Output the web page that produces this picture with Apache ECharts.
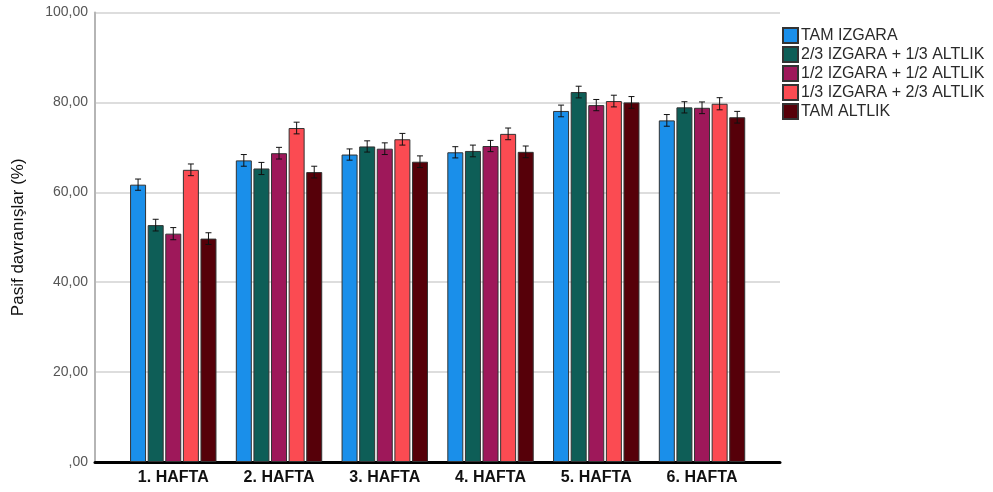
<!DOCTYPE html>
<html>
<head>
<meta charset="utf-8">
<script src="https://cdn.jsdelivr.net/npm/echarts@6/dist/echarts.min.js"></script>
<style>
  html, body { margin: 0; padding: 0; background: #fff; }
  #chart { width: 993px; height: 492px; }
</style>
</head>
<body>
<div id="chart"></div>
<script>
// Weekly passive behaviour (%) by floor type, mean ± error
const weeks = ['1. HAFTA', '2. HAFTA', '3. HAFTA', '4. HAFTA', '5. HAFTA', '6. HAFTA'];
const groupNames = [
  'TAM IZGARA',
  '2/3 IZGARA + 1/3 ALTLIK',
  '1/2 IZGARA + 1/2 ALTLIK',
  '1/3 IZGARA + 2/3 ALTLIK',
  'TAM ALTLIK'
];
const tamIzgara   = [61.7, 67.1, 68.4, 68.9, 78.1, 76.0];
const izgara23    = [52.7, 65.3, 70.2, 69.2, 82.3, 78.9];
const izgara12    = [50.8, 68.7, 69.7, 70.3, 79.4, 78.8];
const izgara13    = [65.0, 74.3, 71.8, 73.0, 80.3, 79.7];
const tamAltlik   = [49.7, 64.5, 66.8, 69.0, 80.0, 76.7];

const errTamIzgara = [1.25, 1.3, 1.25, 1.25, 1.3, 1.3];
const errIzgara23  = [1.3, 1.35, 1.25, 1.3, 1.3, 1.25];
const errIzgara12  = [1.35, 1.3, 1.3, 1.25, 1.25, 1.3];
const errIzgara13  = [1.3, 1.3, 1.3, 1.3, 1.3, 1.35];
const errTamAltlik = [1.3, 1.3, 1.3, 1.3, 1.3, 1.3];

const yTicks = [0, 20, 40, 60, 80, 100];

const colors = ['#1a8fea', '#0e5e57', '#9e185a', '#fb4b52', '#560009'];
const means = [tamIzgara, izgara23, izgara12, izgara13, tamAltlik];
const errs = [errTamIzgara, errIzgara23, errIzgara12, errIzgara13, errTamAltlik];

const BAR_W = 16;
const BAR_GAP = 0.1;
const PITCH = BAR_W * (1 + BAR_GAP);

const fmt = v => {
  const s = v.toFixed(2).replace('.', ',');
  return s.startsWith('0,') ? s.slice(1) : s;
};

const barSeries = groupNames.map((name, i) => ({
  name,
  type: 'bar',
  xAxisIndex: 1,
  yAxisIndex: 1,
  barWidth: BAR_W,
  barGap: (BAR_GAP * 100) + '%',
  itemStyle: { color: colors[i], borderColor: '#333', borderWidth: 1 },
  emphasis: { disabled: true },
  data: means[i]
}));

const errSeries = groupNames.map((name, i) => ({
  name: name + ' hata',
  type: 'custom',
  xAxisIndex: 1,
  yAxisIndex: 1,
  z: 5,
  silent: true,
  data: means[i].map((m, k) => [k, m - errs[i][k], m + errs[i][k]]),
  renderItem: (params, api) => {
    const lo = api.coord([api.value(0), api.value(1)]);
    const hi = api.coord([api.value(0), api.value(2)]);
    const x = lo[0] + (i - 2) * PITCH;
    const cap = 3;
    const st = { stroke: '#111', lineWidth: 1 };
    return {
      type: 'group',
      children: [
        { type: 'line', shape: { x1: x, y1: lo[1], x2: x, y2: hi[1] }, style: st },
        { type: 'line', shape: { x1: x - cap, y1: lo[1], x2: x + cap, y2: lo[1] }, style: st },
        { type: 'line', shape: { x1: x - cap, y1: hi[1], x2: x + cap, y2: hi[1] }, style: st }
      ]
    };
  }
}));

const chart = echarts.init(document.getElementById('chart'), null, { renderer: 'canvas' });
chart.setOption({
  animation: false,
  backgroundColor: '#fff',
  textStyle: { fontFamily: 'Liberation Sans, Arial, sans-serif' },
  legend: {
    data: groupNames,
    orient: 'vertical',
    left: 782,
    top: 27,
    padding: 0,
    itemWidth: 15,
    itemHeight: 15,
    itemGap: 2,
    icon: 'rect',
    selectedMode: false,
    textStyle: { fontSize: 16, lineHeight: 15, color: '#2a2a2a', padding: [0, 0, 0, -2] }
  },
  grid: [
    { left: 95, right: 213, top: 12.5, bottom: 30 },
    { left: 120.4, right: 238.1, top: 12.5, bottom: 30 }
  ],
  xAxis: [
    {
      gridIndex: 0, type: 'value', min: 0, max: 1,
      axisLine: { show: true, lineStyle: { color: '#000', width: 3 } },
      axisTick: { show: false }, axisLabel: { show: false }, splitLine: { show: false }
    },
    {
      gridIndex: 1, type: 'category', data: weeks,
      axisLine: { show: false }, axisTick: { show: false },
      axisLabel: { fontSize: 16, fontWeight: 'bold', color: '#111', margin: 8 }
    }
  ],
  yAxis: [
    {
      gridIndex: 0, type: 'value', min: yTicks[0], max: yTicks[yTicks.length - 1], interval: 20,
      name: 'Pasif davranışlar (%)',
      nameLocation: 'middle',
      nameGap: 68,
      nameTextStyle: { fontSize: 17, color: '#111' },
      axisLine: { show: true, lineStyle: { color: '#b5b5b5', width: 2 } },
      axisTick: { show: false },
      axisLabel: { fontSize: 14, color: '#555', margin: 7, formatter: fmt },
      splitLine: { show: true, lineStyle: { color: '#d2d2d2', width: 1.5 } }
    },
    {
      gridIndex: 1, type: 'value', min: yTicks[0], max: yTicks[yTicks.length - 1], show: false,
      splitLine: { show: false }
    }
  ],
  series: [...barSeries, ...errSeries]
});
</script>
</body>
</html>
